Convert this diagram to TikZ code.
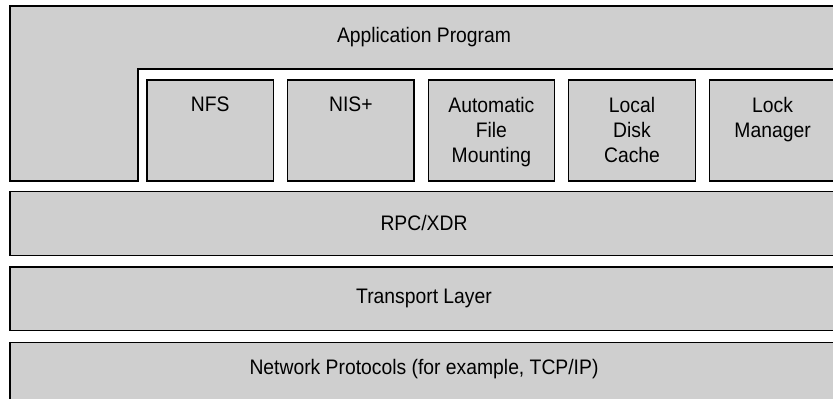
\documentclass[tikz,border=0pt]{standalone}
\usepackage{fontspec}
\setmainfont[FakeStretch=0.92]{Liberation Sans}
\usetikzlibrary{positioning}
\definecolor{scrgrey}{HTML}{CFCFCF}
\tikzset{
  layer/.style  ={rectangle, draw=black, line width=1.2pt, fill=scrgrey,
                  minimum width=828pt, minimum height=63.5pt, inner sep=0pt,
                  font=\fontsize{21}{25}\selectfont},
  mod/.style    ={rectangle, draw=black, line width=1.2pt, fill=scrgrey,
                  minimum width=126.4pt, minimum height=101pt, inner sep=0pt},
  modtxt/.style ={align=center, font=\fontsize{21}{25}\selectfont,
                  inner sep=0pt, anchor=north, yshift=-17.5pt},
  appshape/.style={draw=black, line width=1.2pt, fill=scrgrey}
}
\begin{document}
\begin{tikzpicture}[x=1pt,y=-1pt,node distance=13pt]
  \clip (0,0) rectangle (833,399);
  % application layer with notch
  \draw[appshape] (10,6) -| (838,69) -| (138,181) -- (10,181) -- cycle;
  \node[font=\fontsize{21}{25}\selectfont] (app) at (424,37) {Application Program};
  \node[mod,label={[modtxt]north:NFS}] (nfs) at (210.2,130.5) {};
  \node[mod,right=of nfs,label={[modtxt]north:NIS+}] (nis) {};
  \node[mod,right=of nis,label={[modtxt]north:Automatic\\File\\Mounting}] (afm) {};
  \node[mod,right=of afm,label={[modtxt]north:Local\\Disk\\Cache}] (ldc) {};
  \node[mod,right=of ldc,label={[modtxt]north:Lock\\Manager}] (lock) {};
  % lower layers
  \node[layer] (rpc) at (424,223.45) {RPC/XDR};
  \node[layer,below=10.5pt of rpc] (trans) {Transport Layer};
  \node[layer,below=10.5pt of trans,text depth=13pt] (net) {Network Protocols (for example, TCP/IP)};
\end{tikzpicture}
\end{document}
